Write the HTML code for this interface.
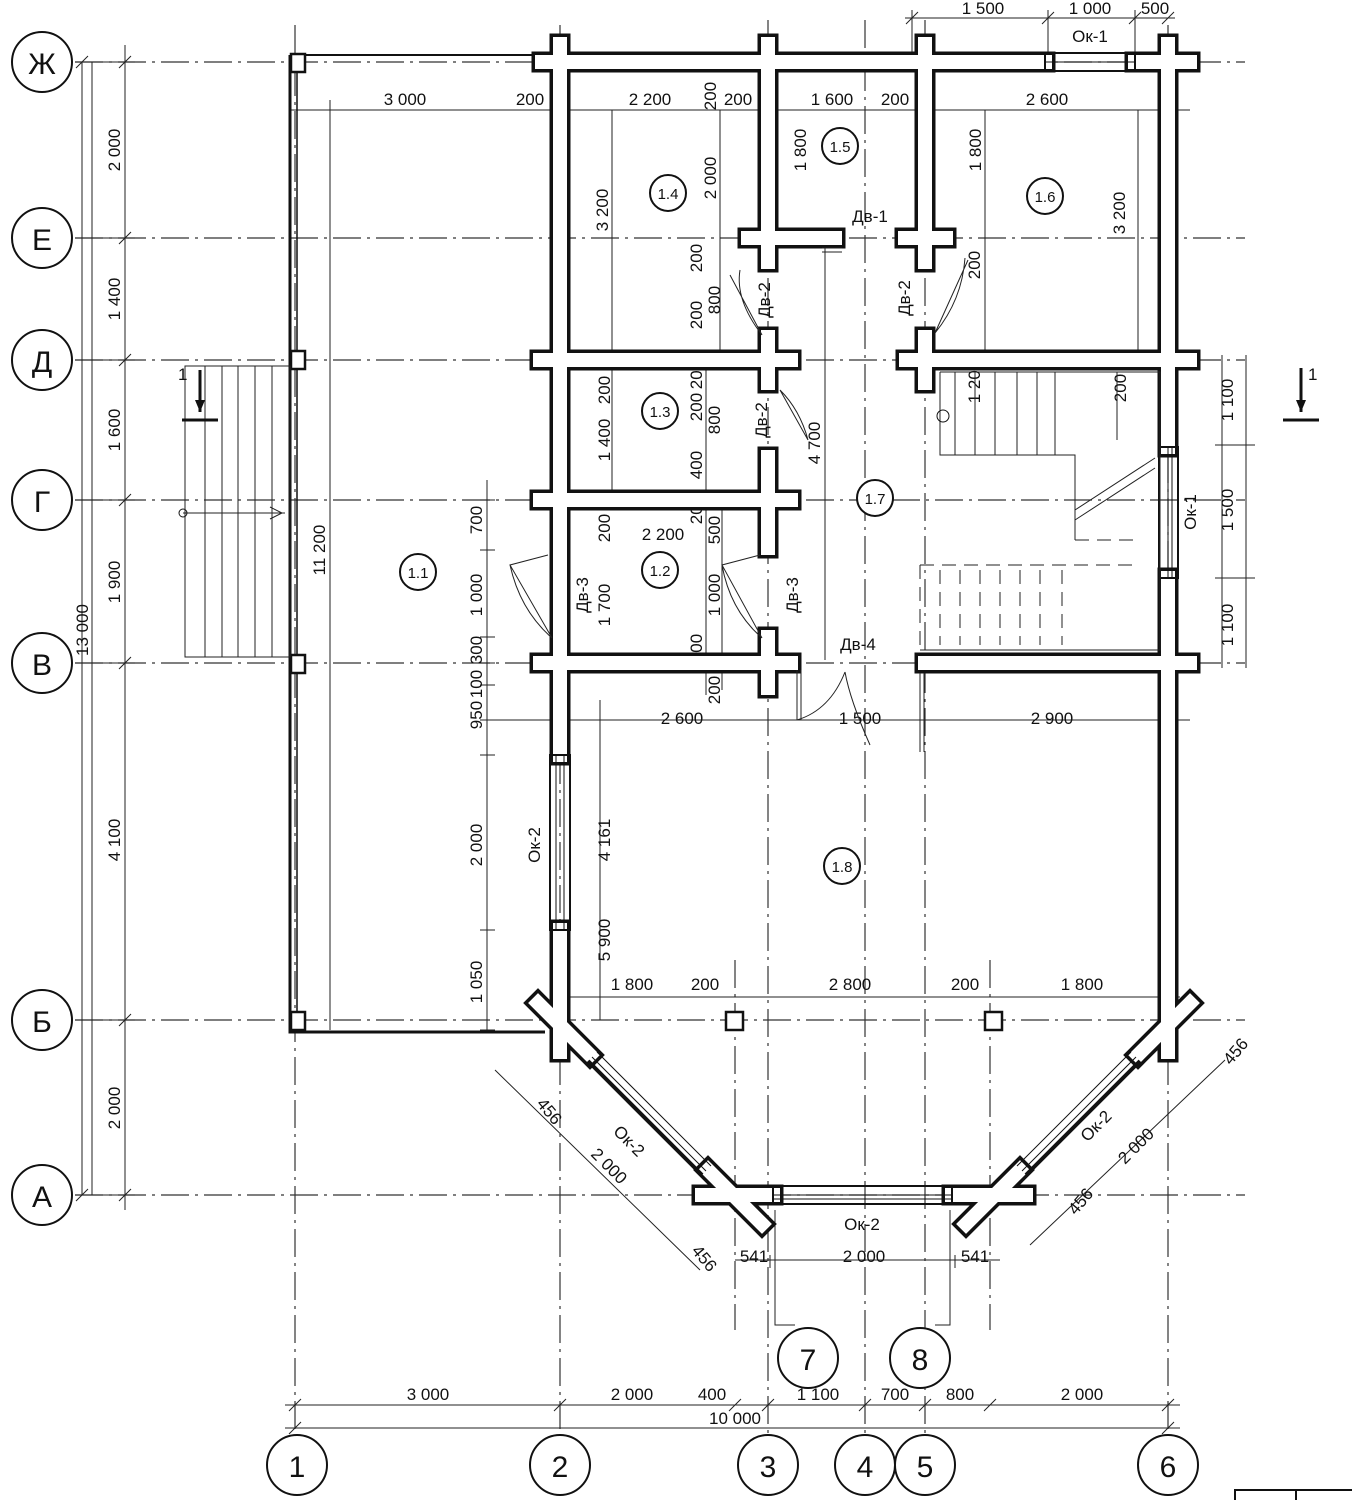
<!DOCTYPE html>
<html><head><meta charset="utf-8"><style>
html,body{margin:0;padding:0;background:#fff}
svg{display:block}
text{font-family:"Liberation Sans Narrow","Liberation Sans",sans-serif;font-size:17px;fill:#111}
.ax{stroke:#333;stroke-width:1.2;stroke-dasharray:28 6 3 6;fill:none}
.th{stroke:#222;stroke-width:1;fill:none}
.c{fill:#fff;stroke:#111;stroke-width:2}
</style></head><body>
<svg width="1352" height="1500" viewBox="0 0 1352 1500" xmlns="http://www.w3.org/2000/svg">
<g class="ax">
<path d="M75 62H1245M75 238H1245M75 360H1245M75 500H1245M75 663H1245M75 1020H1245M75 1195H1245"/>
<path d="M295 25V1435M560 25V1435M768 20V1435M865 20V1435M925 20V1435M1168 25V1435"/>
<path d="M735 960V1330M990 960V1330"/>
</g>
<g class="th">
<path d="M125 45V1210M82 62V1195M92 62V1195"/>
<path d="M75 62H135M75 238H135M75 360H135M75 500H135M75 663H135M75 1020H135M75 1195H135"/>
<path d="M119 68L131 56M119 244L131 232M119 366L131 354M119 506L131 494M119 669L131 657M119 1026L131 1014M119 1201L131 1189M76 68L88 56M76 1201L88 1189"/>
</g>
<g>
<text transform="translate(120,150) rotate(-90)" text-anchor="middle">2 000</text>
<text transform="translate(120,299) rotate(-90)" text-anchor="middle">1 400</text>
<text transform="translate(120,430) rotate(-90)" text-anchor="middle">1 600</text>
<text transform="translate(120,582) rotate(-90)" text-anchor="middle">1 900</text>
<text transform="translate(120,840) rotate(-90)" text-anchor="middle">4 100</text>
<text transform="translate(120,1108) rotate(-90)" text-anchor="middle">2 000</text>
<text transform="translate(88,630) rotate(-90)" text-anchor="middle">13 000</text>
</g>
<g>
<circle class="c" cx="42" cy="62" r="30"/><text x="42" y="74" text-anchor="middle" style="font-size:30px">Ж</text>
<circle class="c" cx="42" cy="238" r="30"/><text x="42" y="250" text-anchor="middle" style="font-size:30px">Е</text>
<circle class="c" cx="42" cy="360" r="30"/><text x="42" y="372" text-anchor="middle" style="font-size:30px">Д</text>
<circle class="c" cx="42" cy="500" r="30"/><text x="42" y="512" text-anchor="middle" style="font-size:30px">Г</text>
<circle class="c" cx="42" cy="663" r="30"/><text x="42" y="675" text-anchor="middle" style="font-size:30px">В</text>
<circle class="c" cx="42" cy="1020" r="30"/><text x="42" y="1032" text-anchor="middle" style="font-size:30px">Б</text>
<circle class="c" cx="42" cy="1195" r="30"/><text x="42" y="1207" text-anchor="middle" style="font-size:30px">А</text>
</g>
<g>
<circle class="c" cx="297" cy="1465" r="30"/><text x="297" y="1477" text-anchor="middle" style="font-size:30px">1</text>
<circle class="c" cx="560" cy="1465" r="30"/><text x="560" y="1477" text-anchor="middle" style="font-size:30px">2</text>
<circle class="c" cx="768" cy="1465" r="30"/><text x="768" y="1477" text-anchor="middle" style="font-size:30px">3</text>
<circle class="c" cx="865" cy="1465" r="30"/><text x="865" y="1477" text-anchor="middle" style="font-size:30px">4</text>
<circle class="c" cx="925" cy="1465" r="30"/><text x="925" y="1477" text-anchor="middle" style="font-size:30px">5</text>
<circle class="c" cx="1168" cy="1465" r="30"/><text x="1168" y="1477" text-anchor="middle" style="font-size:30px">6</text>
<circle class="c" cx="808" cy="1358" r="30"/><text x="808" y="1370" text-anchor="middle" style="font-size:30px">7</text>
<circle class="c" cx="920" cy="1358" r="30"/><text x="920" y="1370" text-anchor="middle" style="font-size:30px">8</text>
</g>
<path class="th" d="M775 1210V1325H795M950 1210V1325H935"/>
<g class="th">
<path d="M285 1405H1180M285 1428H1180"/>
<path d="M289 1411L301 1399M554 1411L566 1399M729 1411L741 1399M762 1411L774 1399M859 1411L871 1399M919 1411L931 1399M984 1411L996 1399M1162 1411L1174 1399M289 1434L301 1422M1162 1434L1174 1422"/>
<path d="M735 1260H1000M770 1255V1268M955 1255V1268"/>
</g>
<text x="428" y="1400" text-anchor="middle">3 000</text>
<text x="632" y="1400" text-anchor="middle">2 000</text>
<text x="712" y="1400" text-anchor="middle">400</text>
<text x="818" y="1400" text-anchor="middle">1 100</text>
<text x="895" y="1400" text-anchor="middle">700</text>
<text x="960" y="1400" text-anchor="middle">800</text>
<text x="1082" y="1400" text-anchor="middle">2 000</text>
<text x="735" y="1424" text-anchor="middle">10 000</text>
<text x="754" y="1262" text-anchor="middle">541</text>
<text x="864" y="1262" text-anchor="middle">2 000</text>
<text x="975" y="1262" text-anchor="middle">541</text>
<text x="862" y="1230" text-anchor="middle">Ок-2</text>
<g class="th">
<path d="M905 18H1175M912 10V70M1048 10V70M1135 10V70M905 110H1190M290 110H1190M560 997H1180M480 720H1190M330 100V1030"/>
<path d="M906 24L918 12M1042 24L1054 12M1129 24L1141 12M1162 24L1174 12"/>
</g>
<text x="983" y="14" text-anchor="middle">1 500</text>
<text x="1090" y="14" text-anchor="middle">1 000</text>
<text x="1155" y="14" text-anchor="middle">500</text>
<text x="1090" y="42" text-anchor="middle">Ок-1</text>
<text x="405" y="105" text-anchor="middle">3 000</text>
<text x="530" y="105" text-anchor="middle">200</text>
<text x="650" y="105" text-anchor="middle">2 200</text>
<text x="738" y="105" text-anchor="middle">200</text>
<text x="832" y="105" text-anchor="middle">1 600</text>
<text x="895" y="105" text-anchor="middle">200</text>
<text x="1047" y="105" text-anchor="middle">2 600</text>
<text x="682" y="724" text-anchor="middle">2 600</text>
<text x="860" y="724" text-anchor="middle">1 500</text>
<text x="1052" y="724" text-anchor="middle">2 900</text>
<text x="632" y="990" text-anchor="middle">1 800</text>
<text x="705" y="990" text-anchor="middle">200</text>
<text x="850" y="990" text-anchor="middle">2 800</text>
<text x="965" y="990" text-anchor="middle">200</text>
<text x="1082" y="990" text-anchor="middle">1 800</text>
<text x="663" y="540" text-anchor="middle">2 200</text>
<g class="th">
<path d="M487 480V1030M612 110V500M720 110V360M985 110V350M1138 110V360M706 360V695M825 240V660M722 500V690M600 700V1020M1222 355V668M1246 355V668"/>
<path d="M480 500H495M480 550H495M480 637H495M480 663H495M480 685H495M480 755H495M480 930H495M480 1030H495M1215 445H1255M1215 578H1255"/>
</g>
<g>
<text transform="translate(482,520) rotate(-90)" text-anchor="middle">700</text>
<text transform="translate(482,595) rotate(-90)" text-anchor="middle">1 000</text>
<text transform="translate(482,650) rotate(-90)" text-anchor="middle">300</text>
<text transform="translate(482,684) rotate(-90)" text-anchor="middle">100</text>
<text transform="translate(482,715) rotate(-90)" text-anchor="middle">950</text>
<text transform="translate(482,845) rotate(-90)" text-anchor="middle">2 000</text>
<text transform="translate(482,982) rotate(-90)" text-anchor="middle">1 050</text>
<text transform="translate(610,940) rotate(-90)" text-anchor="middle">5 900</text>
<text transform="translate(610,840) rotate(-90)" text-anchor="middle">4 161</text>
<text transform="translate(608,210) rotate(-90)" text-anchor="middle">3 200</text>
<text transform="translate(716,178) rotate(-90)" text-anchor="middle">2 000</text>
<text transform="translate(716,96) rotate(-90)" text-anchor="middle">200</text>
<text transform="translate(806,150) rotate(-90)" text-anchor="middle">1 800</text>
<text transform="translate(981,150) rotate(-90)" text-anchor="middle">1 800</text>
<text transform="translate(1125,213) rotate(-90)" text-anchor="middle">3 200</text>
<text transform="translate(702,258) rotate(-90)" text-anchor="middle">200</text>
<text transform="translate(702,315) rotate(-90)" text-anchor="middle">200</text>
<text transform="translate(720,300) rotate(-90)" text-anchor="middle">800</text>
<text transform="translate(980,265) rotate(-90)" text-anchor="middle">200</text>
<text transform="translate(610,390) rotate(-90)" text-anchor="middle">200</text>
<text transform="translate(610,440) rotate(-90)" text-anchor="middle">1 400</text>
<text transform="translate(702,407) rotate(-90)" text-anchor="middle">200</text>
<text transform="translate(702,465) rotate(-90)" text-anchor="middle">400</text>
<text transform="translate(720,420) rotate(-90)" text-anchor="middle">800</text>
<text transform="translate(702,375) rotate(-90)" text-anchor="middle">200</text>
<text transform="translate(820,443) rotate(-90)" text-anchor="middle">4 700</text>
<text transform="translate(610,528) rotate(-90)" text-anchor="middle">200</text>
<text transform="translate(610,605) rotate(-90)" text-anchor="middle">1 700</text>
<text transform="translate(702,510) rotate(-90)" text-anchor="middle">200</text>
<text transform="translate(720,530) rotate(-90)" text-anchor="middle">500</text>
<text transform="translate(720,595) rotate(-90)" text-anchor="middle">1 000</text>
<text transform="translate(702,648) rotate(-90)" text-anchor="middle">200</text>
<text transform="translate(720,690) rotate(-90)" text-anchor="middle">200</text>
<text transform="translate(1233,400) rotate(-90)" text-anchor="middle">1 100</text>
<text transform="translate(1233,510) rotate(-90)" text-anchor="middle">1 500</text>
<text transform="translate(1233,625) rotate(-90)" text-anchor="middle">1 100</text>
<text transform="translate(980,382) rotate(-90)" text-anchor="middle">1 200</text>
<text transform="translate(1126,388) rotate(-90)" text-anchor="middle">200</text>
<text transform="translate(325,550) rotate(-90)" text-anchor="middle">11 200</text>
<text transform="translate(540,845) rotate(-90)" text-anchor="middle">Ок-2</text>
<text transform="translate(1196,512) rotate(-90)" text-anchor="middle">Ок-1</text>
<text transform="translate(770,300) rotate(-90)" text-anchor="middle">Дв-2</text>
<text transform="translate(910,298) rotate(-90)" text-anchor="middle">Дв-2</text>
<text transform="translate(767,420) rotate(-90)" text-anchor="middle">Дв-2</text>
<text transform="translate(588,595) rotate(-90)" text-anchor="middle">Дв-3</text>
<text transform="translate(798,595) rotate(-90)" text-anchor="middle">Дв-3</text>
</g>
<text x="870" y="222" text-anchor="middle">Дв-1</text>
<text x="858" y="650" text-anchor="middle">Дв-4</text>
<g stroke="#111" fill="none">
<path d="M290 55V1032H545" stroke-width="3"/>
<path d="M297 55V1030" stroke-width="1.5"/>
<path d="M290 55H545" stroke-width="2"/>
</g>
<g fill="#fff" stroke="#111" stroke-width="2.5">
<rect x="291" y="54" width="14" height="18"/><rect x="291" y="351" width="14" height="18"/>
<rect x="291" y="655" width="14" height="18"/><rect x="291" y="1012" width="14" height="18"/>
<rect x="726" y="1012" width="17" height="18"/><rect x="985" y="1012" width="17" height="18"/>
</g>
<g class="th">
<rect x="185" y="366" width="105" height="291"/>
<path d="M205 366V657M222 366V657M238 366V657M255 366V657M272 366V657M183 513H285"/>
<path d="M270 507L282 513L270 519"/>
</g>
<circle cx="183" cy="513" r="4" fill="none" stroke="#111"/>
<path d="M182 420H218M200 370V412" stroke="#111" stroke-width="3"/>
<path d="M195 400L200 412L205 400Z" fill="#111"/>
<text x="178" y="380">1</text>
<path d="M1283 420H1319M1301 368V412" stroke="#111" stroke-width="3"/>
<path d="M1296 400L1301 412L1306 400Z" fill="#111"/>
<text x="1308" y="380">1</text>
<g fill="none" stroke-linecap="square">
<g stroke="#111" stroke-width="21">
<path d="M542 62H1045M1135 62H1190M560 44V755M560 930V1052M768 44V262M768 337V383M768 457V548M768 637V688M925 44V262M925 337V383M1168 44V447M1168 578V1052M748 238H835M905 238H946M540 360H791M906 360H1190M540 500H791M540 663H791M925 663H1190M538 1003L590 1055M708 1170L762 1224M702 1195H773M952 1195H1026M1190 1003L1138 1055M1020 1170L966 1224"/>
</g>
<g stroke="#fff" stroke-width="14">
<path d="M542 62H1045M1135 62H1190M560 44V755M560 930V1052M768 44V262M768 337V383M768 457V548M768 637V688M925 44V262M925 337V383M1168 44V447M1168 578V1052M748 238H835M905 238H946M540 360H791M906 360H1190M540 500H791M540 663H791M925 663H1190M538 1003L590 1055M708 1170L762 1224M702 1195H773M952 1195H1026M1190 1003L1138 1055M1020 1170L966 1224"/>
</g>
</g>
<g stroke="#111" fill="none">
<rect x="1045" y="53" width="90" height="18" stroke-width="2"/><path d="M1045 62H1135" stroke-width="1"/>
<rect x="550" y="755" width="20" height="175" stroke-width="2"/><path d="M556 755V930M564 755V930" stroke-width="1"/>
<rect x="1159" y="447" width="19" height="131" stroke-width="2"/><path d="M1168 447V578M1172 447V578" stroke-width="1"/>
<rect x="773" y="1186" width="179" height="18" stroke-width="2"/><path d="M773 1195H952M773 1199H952" stroke-width="1"/>
<path d="M588 1061L702 1175" stroke-width="4"/>
<path d="M592 1057L706 1171M597 1052L711 1166" stroke-width="1"/>
<path d="M1140 1061L1026 1175" stroke-width="4"/>
<path d="M1136 1057L1022 1171M1131 1052L1017 1166" stroke-width="1"/>
</g>
<g class="th">
<path d="M495 1070L700 1270M1225 1060L1030 1245"/>
</g>
<text transform="translate(545,1115) rotate(50)" text-anchor="middle">456</text>
<text transform="translate(625,1145) rotate(45)" text-anchor="middle">Ок-2</text>
<text transform="translate(605,1170) rotate(45)" text-anchor="middle">2 000</text>
<text transform="translate(700,1262) rotate(50)" text-anchor="middle">456</text>
<text transform="translate(1100,1130) rotate(-45)" text-anchor="middle">Ок-2</text>
<text transform="translate(1140,1150) rotate(-45)" text-anchor="middle">2 000</text>
<text transform="translate(1240,1055) rotate(-50)" text-anchor="middle">456</text>
<text transform="translate(1085,1205) rotate(-50)" text-anchor="middle">456</text>
<g class="th">
<path d="M822 248H842M822 252H842"/>
<path d="M740 270Q735 300 762 335M730 275L762 335"/>
<path d="M965 258Q962 300 935 333M968 260L935 333"/>
<path d="M780 390L808 440M780 390Q800 410 808 440"/>
<path d="M548 555L510 565L552 638M510 565Q520 610 552 638"/>
<path d="M760 555L722 565L762 638M722 565Q730 610 762 638"/>
<path d="M797 670V720M801 670V720M797 720Q830 710 845 672M920 673V752M924 673V752M870 745Q850 700 845 672"/>
</g>
<g class="th">
<path d="M940 372H1160V650H920M940 372V455H1075V510M955 372V455M975 372V455M995 372V455M1017 372V455M1037 372V455M1055 372V455M1117 372V440M1075 455V540M1075 510L1155 458M1075 520L1155 468"/>
<path d="M920 565H1140M920 565V650M940 570V645M960 570V645M980 570V645M1000 570V645M1020 570V645M1040 570V645M1062 570V645M1075 540H1140" stroke-dasharray="14 8"/>
</g>
<circle cx="943" cy="416" r="6" fill="none" stroke="#111"/>
<g>
<circle class="c" cx="418" cy="572" r="18"/><text x="418" y="578" text-anchor="middle" style="font-size:15px">1.1</text>
<circle class="c" cx="660" cy="570" r="18"/><text x="660" y="576" text-anchor="middle" style="font-size:15px">1.2</text>
<circle class="c" cx="660" cy="411" r="18"/><text x="660" y="417" text-anchor="middle" style="font-size:15px">1.3</text>
<circle class="c" cx="668" cy="193" r="18"/><text x="668" y="199" text-anchor="middle" style="font-size:15px">1.4</text>
<circle class="c" cx="840" cy="146" r="18"/><text x="840" y="152" text-anchor="middle" style="font-size:15px">1.5</text>
<circle class="c" cx="1045" cy="196" r="18"/><text x="1045" y="202" text-anchor="middle" style="font-size:15px">1.6</text>
<circle class="c" cx="875" cy="498" r="18"/><text x="875" y="504" text-anchor="middle" style="font-size:15px">1.7</text>
<circle class="c" cx="842" cy="866" r="18"/><text x="842" y="872" text-anchor="middle" style="font-size:15px">1.8</text>
</g>
<path d="M1235 1500V1490H1352" stroke="#111" stroke-width="2" fill="none"/>
<path d="M1296 1490V1500" stroke="#111" stroke-width="2"/>
</svg>
</body></html>
